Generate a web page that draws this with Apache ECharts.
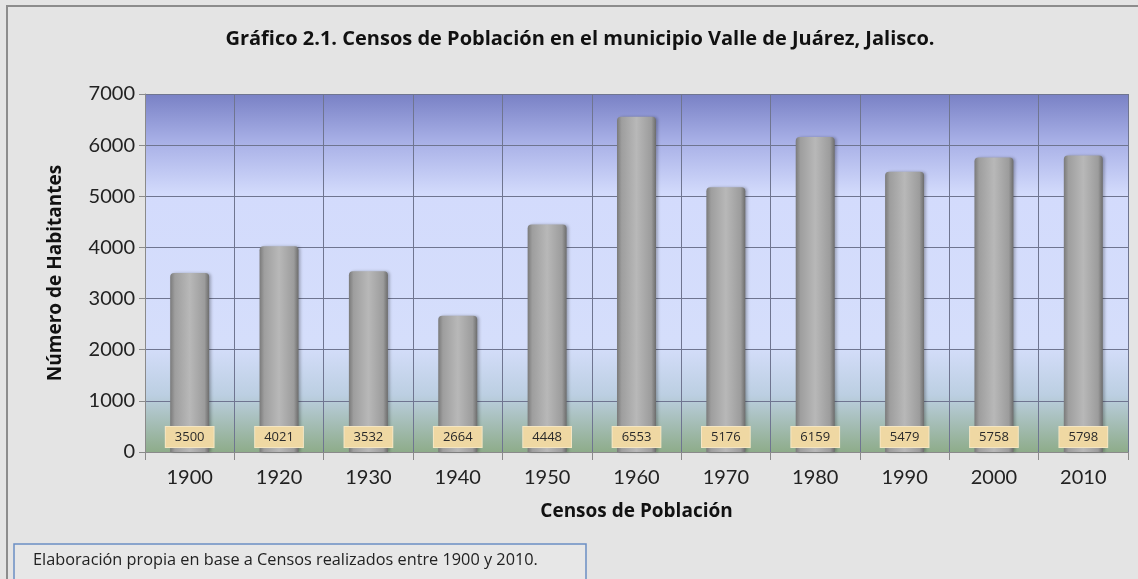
<!DOCTYPE html>
<html>
<head>
<meta charset="utf-8">
<script src="https://cdn.jsdelivr.net/npm/echarts@6/dist/echarts.min.js"></script>
<style>
  html, body { margin: 0; padding: 0; background: #e4e4e4; }
  #chart { width: 1138px; height: 579px; }
</style>
</head>
<body>
<div id="chart"></div>
<script>
// datos de los censos
var years = ["1900", "1920", "1930", "1940", "1950", "1960", "1970", "1980", "1990", "2000", "2010"];
var habitantes = [3500, 4021, 3532, 2664, 4448, 6553, 5176, 6159, 5479, 5758, 5798];
var yTicks = [0, 1000, 2000, 3000, 4000, 5000, 6000, 7000];

var tituloTxt = "Gráfico 2.1. Censos de Población en el municipio Valle de Juárez, Jalisco.";
var notaTxt = "Elaboración propia en base a Censos realizados entre 1900 y 2010.";

var chart = echarts.init(document.getElementById("chart"));
var fuente = "Lato, 'Open Sans', sans-serif";
var fuenteB = "'Open Sans', Lato, sans-serif";

// fondo del área de trazado: azul arriba, verde abajo
var fondoPlot = new echarts.graphic.LinearGradient(0, 0, 0, 1, [
  { offset: 0, color: "#7981c5" },
  { offset: 0.13, color: "#a7afe6" },
  { offset: 0.28, color: "#d3dbfc" },
  { offset: 0.70, color: "#d5defb" },
  { offset: 0.84, color: "#bccfe2" },
  { offset: 1, color: "#8eac8a" }
]);

// barras grises tipo cilindro
var grisBarra = new echarts.graphic.LinearGradient(0, 0, 1, 0, [
  { offset: 0, color: "#7a7a7a" },
  { offset: 0.12, color: "#9e9e9e" },
  { offset: 0.5, color: "#b8b8b8" },
  { offset: 0.88, color: "#9c9c9c" },
  { offset: 1, color: "#6c6c6c" }
]);

var option = {
  backgroundColor: "#e4e4e4",
  textStyle: { fontFamily: fuente },
  title: {
    text: tituloTxt,
    left: 575,
    top: 24,
    textAlign: "center",
    textStyle: { fontSize: 20, fontWeight: "bold", color: "#111", fontFamily: fuenteB }
  },
  grid: {
    left: 145,
    right: 10,
    top: 94,
    bottom: 127,
    show: true,
    backgroundColor: fondoPlot,
    borderWidth: 0
  },
  xAxis: {
    type: "category",
    data: years,
    name: "Censos de Población",
    nameLocation: "middle",
    nameGap: 50,
    nameTextStyle: { fontSize: 19, fontWeight: "bold", color: "#111", fontFamily: fuenteB },
    axisLine: { show: true, lineStyle: { color: "#8a8a8a", width: 1 } },
    axisTick: { show: true, length: 8, lineStyle: { color: "#8a8a8a" } },
    axisLabel: { fontSize: 20, color: "#222", margin: 16 },
    splitLine: { show: true, lineStyle: { color: "#6f7590", width: 1 } }
  },
  yAxis: {
    type: "value",
    min: yTicks[0],
    max: yTicks[yTicks.length - 1],
    interval: 1000,
    name: "Número de Habitantes",
    nameLocation: "middle",
    nameGap: 80,
    nameTextStyle: { fontSize: 19, fontWeight: "bold", color: "#111", fontFamily: fuenteB },
    axisLine: { show: true, lineStyle: { color: "#8a8a8a", width: 1 } },
    axisTick: { show: true, length: 6, lineStyle: { color: "#8a8a8a" } },
    axisLabel: { fontSize: 20, color: "#222", margin: 10, formatter: function (v) { return String(v); } },
    splitLine: { show: true, lineStyle: { color: "#6f7590", width: 1 } }
  },
  series: [
    {
      name: "Habitantes",
      type: "bar",
      data: habitantes,
      barWidth: 39,
      itemStyle: {
        color: grisBarra,
        borderRadius: [4, 4, 0, 0],
        shadowColor: "rgba(0,0,0,0.25)",
        shadowBlur: 3,
        shadowOffsetX: 2
      },
      label: {
        show: true,
        position: "insideBottom",
        distance: 5,
        fontSize: 13,
        fontFamily: fuenteB,
        color: "#2a2a2a",
        backgroundColor: "#efd8a3",
        borderColor: "#f5e6c2",
        borderWidth: 1,
        padding: [4, 9, 3, 9]
      }
    }
  ],
  graphic: [
    {
      // marco exterior
      type: "rect",
      shape: { x: 7, y: 6, width: 1150, height: 600 },
      style: { fill: null, stroke: "#8c8c8c", lineWidth: 2 },
      silent: true
    },
    {
      // recuadro de la nota
      type: "rect",
      shape: { x: 14, y: 544, width: 572, height: 40 },
      style: { fill: "rgba(240,240,240,0.3)", stroke: "#6b8fc4", lineWidth: 1.5 },
      silent: true
    },
    {
      type: "text",
      left: 33,
      top: 552,
      style: { text: notaTxt, fontSize: 16.3, fill: "#222", fontFamily: fuenteB }
    }
  ]
};

chart.setOption(option);
</script>
</body>
</html>
